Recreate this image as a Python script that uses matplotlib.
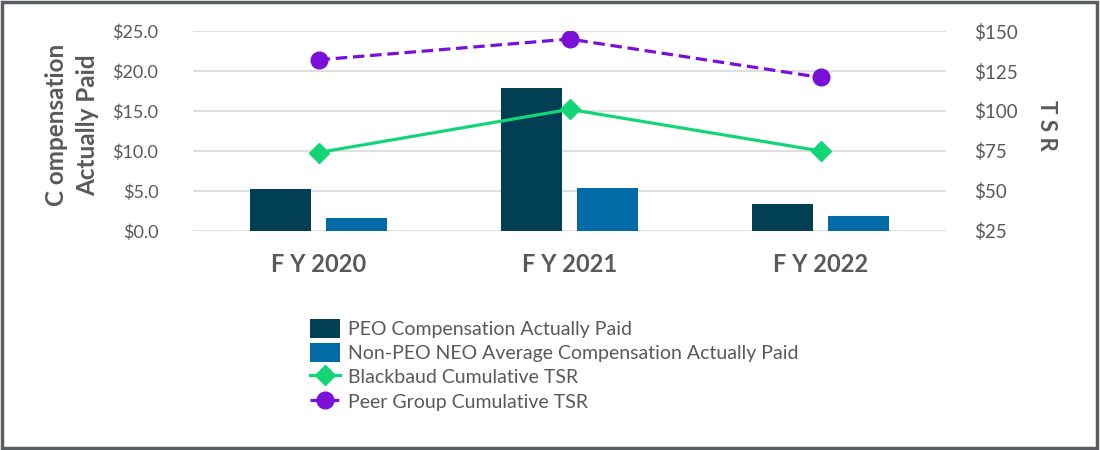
"""Compensation actually paid vs. cumulative TSR, FY2020-FY2022."""
import matplotlib
matplotlib.use("Agg")
import matplotlib.pyplot as plt
from matplotlib.patches import Rectangle
from matplotlib.legend_handler import HandlerPatch
import numpy as np

YEARS = ["F Y 2020", "F Y 2021", "F Y 2022"]
PEO_CAP = [5.2, 17.9, 3.4]          # $M
NEO_CAP = [1.6, 5.4, 1.9]           # $M
BB_TSR = [74, 101, 75]              # Blackbaud cumulative TSR ($)
PEER_TSR = [132, 145, 121]          # peer group cumulative TSR ($)

LEFT_TICKS = [0, 5, 10, 15, 20, 25]
RIGHT_TICKS = [25, 50, 75, 100, 125, 150]

C_PEO, C_NEO = "#013F54", "#006BA6"
C_BB, C_PEER = "#12D676", "#7A0FD9"
TXT, GRID = "#595959", "#D9D9D9"

plt.rcParams["font.family"] = ["Lato", "DejaVu Sans"]

fig = plt.figure(figsize=(11, 4.5), dpi=100)
ax = fig.add_axes([0.1755, 0.487, 0.6845, 0.444])
x = np.arange(len(YEARS))
w, off = 0.245, 0.152

b1 = ax.bar(x - off, PEO_CAP, w, color=C_PEO, zorder=2,
            label="PEO Compensation Actually Paid")
b2 = ax.bar(x + off, NEO_CAP, w, color=C_NEO, zorder=2,
            label="Non-PEO NEO Average Compensation Actually Paid")
ax.set_xlim(-0.5, 2.5)
ax.set_ylim(0, 25)
ax.set_yticks(LEFT_TICKS)
ax.set_yticklabels([f"${v:.1f}" for v in LEFT_TICKS])
ax.set_xticks(x)
ax.set_xticklabels(YEARS, fontsize=17, fontweight="bold", color=TXT)
ax.grid(axis="y", color=GRID, lw=1.2, zorder=0)
ax.set_axisbelow(True)
ax.tick_params(axis="y", length=0, pad=25, labelsize=13, labelcolor=TXT)
ax.tick_params(axis="x", length=0, pad=16)
for s in ax.spines.values():
    s.set_visible(False)

ax2 = ax.twinx()
ax2.set_ylim(25, 150)
ax2.set_yticks(RIGHT_TICKS)
ax2.set_yticklabels([f"${v}" for v in RIGHT_TICKS])
ax2.tick_params(axis="y", length=0, pad=20, labelsize=13.5, labelcolor=TXT)
for s in ax2.spines.values():
    s.set_visible(False)
l1, = ax2.plot(x, BB_TSR, color=C_BB, lw=2.3, marker="D", ms=10.5, zorder=3,
               label="Blackbaud Cumulative TSR")
l2, = ax2.plot(x, PEER_TSR, color=C_PEER, lw=2.3, ls=(0, (3.6, 1.8)),
               marker="o", ms=12, zorder=3, label="Peer Group Cumulative TSR")

fig.text(72 / 1100, 0.722, "C ompensation\nActually Paid", rotation=90,
         ha="center", va="center", fontsize=17.5, fontweight="bold", color=TXT,
         linespacing=1.45)
fig.text(1046 / 1100, 0.722, "T S R", rotation=270, ha="center", va="center",
         fontsize=16, fontweight="bold", color=TXT)


def _square(legend, orig, xdescent, ydescent, width, height, fontsize):
    s = height
    return Rectangle((xdescent + (width - s) / 2, ydescent), s, s)


fig.legend([b1, b2, l1, l2], [h.get_label() for h in (b1, b2, l1, l2)],
           loc="upper left", bbox_to_anchor=(310 / 1100, 1 - 319 / 450),
           frameon=False, fontsize=14, labelcolor=TXT, handlelength=1.55,
           handleheight=1.13, handletextpad=0.4, labelspacing=0.26,
           borderpad=0, borderaxespad=0, markerscale=1.0,
           handler_map={Rectangle: HandlerPatch(patch_func=_square)})

fig.patches.append(Rectangle((0.002, 0.004), 0.995, 0.991, transform=fig.transFigure,
                             fill=False, ec="#5A5E63", lw=2.5))
fig.savefig("out.png", dpi=100)
